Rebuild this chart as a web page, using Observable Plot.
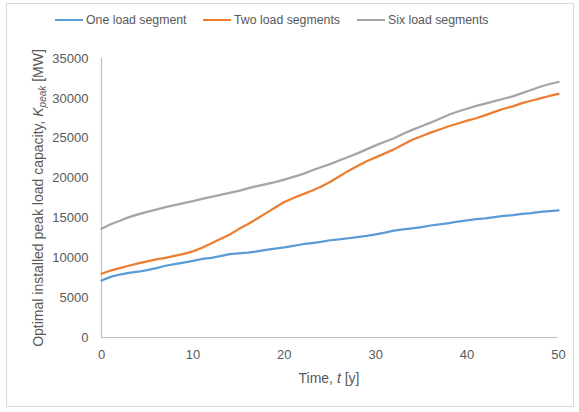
<!DOCTYPE html>
<html>
<head>
<meta charset="utf-8">
<script src="https://cdn.jsdelivr.net/npm/d3@7"></script>
<script src="https://cdn.jsdelivr.net/npm/@observablehq/plot@0.6"></script>
<style>
  html, body { margin: 0; padding: 0; background: #fff; }
  body { width: 579px; height: 412px; position: relative; overflow: hidden; font-family: "Liberation Sans", Arial, sans-serif; }
  #frame { position: absolute; left: 6px; top: 3px; width: 568px; height: 404px; border: 1px solid #d9d9d9; box-sizing: border-box; }
  #legend { position: absolute; left: 0; top: 10px; width: 579px; height: 20px; font-size: 12.3px; color: #595959; }
  .item { position: absolute; top: 0; display: flex; align-items: center; height: 20px; }
  .swatch { display: inline-block; width: 28px; height: 0; border-top: 2.5px solid; margin-right: 3px; }
  #chart { position: absolute; left: 0; top: 0; }
</style>
</head>
<body>
<div id="frame"></div>
<div id="legend"></div>
<div id="chart"></div>
<script>
const years = d3.range(0, 51);
const seriesNames = ["One load segment", "Two load segments", "Six load segments"];
const seriesColors = ["#5b9bd5", "#ed7d31", "#a5a5a5"];
const oneSegment = [7150, 7600, 7900, 8100, 8250, 8450, 8700, 9000, 9200, 9400,
  9600, 9850, 10000, 10200, 10450, 10550, 10650, 10800, 11000, 11150,
  11300, 11500, 11700, 11850, 12000, 12200, 12300, 12450, 12600, 12750,
  12950, 13150, 13400, 13550, 13700, 13850, 14050, 14200, 14350, 14550,
  14700, 14850, 14950, 15100, 15250, 15350, 15500, 15600, 15750, 15850, 15950];
const twoSegments = [8000, 8400, 8700, 9000, 9300, 9550, 9800, 10000, 10250, 10500,
  10800, 11250, 11800, 12350, 12900, 13600, 14200, 14900, 15600, 16300,
  17000, 17500, 17950, 18400, 18900, 19500, 20200, 20900, 21500, 22100,
  22600, 23100, 23600, 24200, 24800, 25250, 25700, 26100, 26500, 26850,
  27200, 27500, 27900, 28300, 28700, 29000, 29400, 29700, 30000, 30300, 30550];
const sixSegments = [13650, 14200, 14650, 15100, 15450, 15750, 16050, 16350, 16600, 16850,
  17100, 17400, 17650, 17900, 18150, 18400, 18700, 19000, 19250, 19500,
  19800, 20150, 20500, 20950, 21350, 21750, 22200, 22650, 23100, 23600,
  24100, 24550, 25000, 25550, 26050, 26500, 26950, 27450, 27950, 28350,
  28700, 29050, 29350, 29650, 29950, 30250, 30650, 31050, 31450, 31800, 32050];
const xTicks = [0, 10, 20, 30, 40, 50];
const yTicks = [0, 5000, 10000, 15000, 20000, 25000, 30000, 35000];

const allSeries = [oneSegment, twoSegments, sixSegments];
const data = allSeries.flatMap((vals, i) => years.map((t, j) => ({t, v: vals[j], s: seriesNames[i]})));

// legend
const legendPos = [55, 203, 357];
const legend = document.getElementById("legend");
seriesNames.forEach((n, i) => {
  const d = document.createElement("div");
  d.className = "item";
  d.style.left = legendPos[i] + "px";
  d.innerHTML = `<span class="swatch" style="border-color:${seriesColors[i]}"></span><span>${n}</span>`;
  legend.appendChild(d);
});

const plot = Plot.plot({
  width: 579,
  height: 412,
  marginLeft: 101,
  marginRight: 21,
  marginTop: 58,
  marginBottom: 75,
  style: {fontFamily: "Liberation Sans, Arial, sans-serif", fontSize: "13px", color: "#595959", background: "transparent", overflow: "visible"},
  x: {domain: [0, 50]},
  y: {domain: [0, 35000]},
  color: {domain: seriesNames, range: seriesColors},
  marks: [
    Plot.ruleX([0], {stroke: "#bfbfbf", strokeWidth: 1.2}),
    Plot.ruleY([0], {stroke: "#bfbfbf", strokeWidth: 1.2}),
    Plot.axisX({ticks: xTicks, tickSize: 0, tickPadding: 12, label: null, tickFormat: d => String(d), fill: "#595959"}),
    Plot.axisY({ticks: yTicks, tickSize: 0, tickPadding: 13, label: null, tickFormat: d => String(d), fill: "#595959"}),
    Plot.line(data, {x: "t", y: "v", z: "s", stroke: "s", strokeWidth: 2.25, curve: "linear"})
  ]
});
document.getElementById("chart").appendChild(plot);

const svg = d3.select(plot);
svg.append("text")
  .attr("x", 329).attr("y", 383)
  .attr("text-anchor", "middle")
  .attr("fill", "#595959")
  .style("font-size", "14px")
  .call(t => {
    t.append("tspan").text("Time, ");
    t.append("tspan").attr("font-style", "italic").text("t");
    t.append("tspan").text(" [y]");
  });
svg.append("text")
  .attr("transform", "translate(43,198) rotate(-90)")
  .attr("text-anchor", "middle")
  .attr("fill", "#595959")
  .style("font-size", "14px")
  .call(t => {
    t.append("tspan").text("Optimal installed peak load capacity, ");
    t.append("tspan").attr("font-style", "italic").text("K");
    t.append("tspan").attr("font-style", "italic").attr("dy", 3).style("font-size", "10px").text("peak");
    t.append("tspan").attr("dy", -3).text(" [MW]");
  });
</script>
</body>
</html>
